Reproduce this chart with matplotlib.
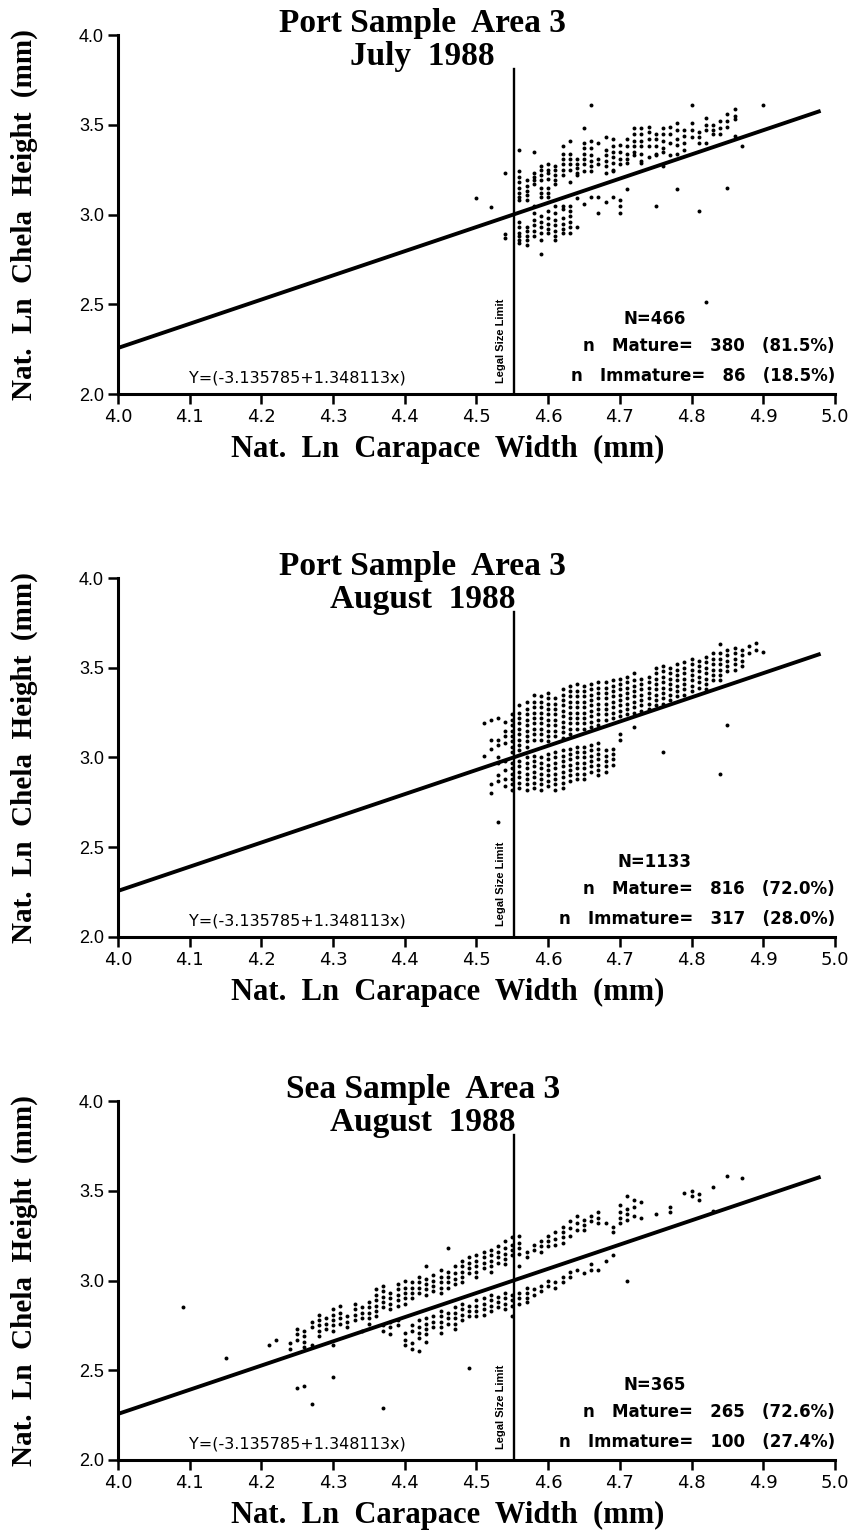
import numpy as np
import matplotlib
matplotlib.use("Agg")
import matplotlib.pyplot as plt

# regression used in all three panels
intercept = -3.135785
slope = 1.348113
legal_limit = 4.553
eq_label = "Y=(-3.135785+1.348113x)"

titles = [("Port Sample  Area 3", "July  1988"),
          ("Port Sample  Area 3", "August  1988"),
          ("Sea Sample  Area 3", "August  1988")]
n_labels = ["N=466", "N=1133", "N=365"]
mature_labels = ["n   Mature=   380   (81.5%)",
                 "n   Mature=   816   (72.0%)",
                 "n   Mature=   265   (72.6%)"]
immature_labels = ["n   Immature=   86   (18.5%)",
                   "n   Immature=   317   (28.0%)",
                   "n   Immature=   100   (27.4%)"]

xticks = [4.0, 4.1, 4.2, 4.3, 4.4, 4.5, 4.6, 4.7, 4.8, 4.9, 5.0]
yticks = [2.0, 2.5, 3.0, 3.5, 4.0]

# Port sample, July 1988: (ln carapace width, [ln chela heights])
jul_cols = [
    (4.50, [3.09]), (4.52, [3.04]), (4.54, [3.23, 2.89, 2.87]),
    (4.56, [3.36, 3.24, 3.21, 3.18, 3.15, 3.12, 3.10, 3.08, 2.96, 2.93, 2.90, 2.88, 2.86, 2.84]),
    (4.57, [3.19, 3.16, 3.13, 3.11, 3.08, 2.93, 2.91, 2.88, 2.86, 2.83]),
    (4.58, [3.35, 3.23, 3.21, 3.19, 3.17, 3.05, 3.01, 2.97, 2.94, 2.91, 2.88]),
    (4.59, [3.27, 3.25, 3.22, 3.19, 3.15, 3.12, 3.10, 2.99, 2.96, 2.93, 2.90, 2.86, 2.78]),
    (4.60, [3.28, 3.25, 3.23, 3.20, 3.15, 3.12, 3.10, 3.02, 2.98, 2.95, 2.92, 2.90]),
    (4.61, [3.27, 3.25, 3.22, 3.19, 3.17, 3.05, 3.01, 2.97, 2.94, 2.91, 2.88, 2.86]),
    (4.62, [3.38, 3.34, 3.31, 3.28, 3.25, 3.22, 3.05, 3.03, 2.98, 2.95, 2.92, 2.90]),
    (4.63, [3.41, 3.34, 3.31, 3.28, 3.25, 3.18, 3.05, 3.02, 2.99, 2.96, 2.93, 2.90]),
    (4.64, [3.31, 3.28, 3.26, 3.23, 3.22, 3.09, 2.93]),
    (4.65, [3.48, 3.40, 3.37, 3.34, 3.31, 3.28, 3.24, 3.06]),
    (4.66, [3.61, 3.41, 3.37, 3.33, 3.30, 3.27, 3.24, 3.10]),
    (4.67, [3.40, 3.31, 3.28, 3.10, 3.01]),
    (4.68, [3.43, 3.36, 3.33, 3.30, 3.27, 3.23, 3.07]),
    (4.69, [3.42, 3.38, 3.35, 3.32, 3.29, 3.25, 3.24, 3.10]),
    (4.70, [3.39, 3.35, 3.31, 3.28, 3.08, 3.05, 3.01]),
    (4.71, [3.42, 3.38, 3.34, 3.31, 3.29, 3.14]),
    (4.72, [3.48, 3.45, 3.41, 3.38, 3.35, 3.33]),
    (4.73, [3.48, 3.45, 3.41, 3.38, 3.34, 3.30, 3.29]),
    (4.74, [3.49, 3.46, 3.42, 3.38, 3.32]),
    (4.75, [3.45, 3.42, 3.38, 3.34, 3.33, 3.05]),
    (4.76, [3.48, 3.45, 3.41, 3.37, 3.35, 3.27]),
    (4.77, [3.49, 3.45, 3.40, 3.33]),
    (4.78, [3.51, 3.47, 3.42, 3.39, 3.34, 3.14]),
    (4.79, [3.47, 3.44, 3.40, 3.36]),
    (4.80, [3.61, 3.51, 3.47, 3.43]),
    (4.81, [3.46, 3.43, 3.40, 3.02]),
    (4.82, [3.54, 3.50, 3.47, 3.40, 2.51]),
    (4.83, [3.50, 3.47, 3.45]),
    (4.84, [3.52, 3.48, 3.45]),
    (4.85, [3.56, 3.52, 3.49, 3.15]),
    (4.86, [3.59, 3.55, 3.53, 3.44]),
    (4.87, [3.38]), (4.90, [3.61]),
]

# Port sample, August 1988
aug_cols = [
    (4.51, [3.19, 3.01]),
    (4.52, [3.21, 3.10, 3.05, 2.85, 2.80]),
    (4.53, [3.22, 3.10, 3.07, 3.00, 2.97, 2.90, 2.87, 2.64]),
    (4.54, [3.20, 3.15, 3.12, 3.08, 2.98, 2.93, 2.88, 2.84]),
    (4.55, [3.24, 3.21, 3.18, 3.15, 3.12, 3.09, 3.06, 3.03, 2.97, 2.94, 2.91, 2.88, 2.85, 2.82]),
    (4.56, [3.29, 3.25, 3.22, 3.19, 3.16, 3.13, 3.10, 3.07, 3.04, 2.98, 2.95, 2.92, 2.89, 2.86, 2.83]),
    (4.57, [3.31, 3.27, 3.24, 3.21, 3.18, 3.15, 3.12, 3.09, 3.06, 3.00, 2.97, 2.94, 2.91, 2.88, 2.85, 2.82]),
    (4.58, [3.35, 3.31, 3.28, 3.25, 3.22, 3.19, 3.16, 3.13, 3.10, 3.01, 2.98, 2.95, 2.92, 2.89, 2.86, 2.83]),
    (4.59, [3.34, 3.31, 3.28, 3.25, 3.22, 3.19, 3.16, 3.13, 3.10, 3.00, 2.97, 2.94, 2.91, 2.88, 2.85, 2.82]),
    (4.60, [3.36, 3.33, 3.30, 3.27, 3.24, 3.21, 3.18, 3.15, 3.12, 3.09, 3.02, 2.99, 2.96, 2.93, 2.90, 2.87, 2.84]),
    (4.61, [3.33, 3.30, 3.27, 3.24, 3.21, 3.18, 3.15, 3.12, 3.03, 3.00, 2.97, 2.94, 2.91, 2.88, 2.85, 2.82]),
    (4.62, [3.38, 3.35, 3.32, 3.29, 3.26, 3.23, 3.20, 3.17, 3.14, 3.11, 3.04, 3.01, 2.98, 2.95, 2.92, 2.89, 2.86, 2.83]),
    (4.63, [3.40, 3.37, 3.34, 3.31, 3.28, 3.25, 3.22, 3.19, 3.16, 3.13, 3.05, 3.02, 2.99, 2.96, 2.93, 2.90, 2.87]),
    (4.64, [3.41, 3.37, 3.34, 3.31, 3.28, 3.25, 3.22, 3.19, 3.16, 3.06, 3.03, 3.00, 2.97, 2.94, 2.91, 2.88]),
    (4.65, [3.40, 3.37, 3.34, 3.31, 3.28, 3.25, 3.22, 3.19, 3.16, 3.06, 3.03, 3.00, 2.97, 2.94, 2.91, 2.88]),
    (4.66, [3.41, 3.38, 3.35, 3.32, 3.29, 3.26, 3.23, 3.20, 3.17, 3.07, 3.04, 3.01, 2.98, 2.95, 2.92]),
    (4.67, [3.42, 3.39, 3.36, 3.33, 3.30, 3.27, 3.24, 3.21, 3.18, 3.08, 3.05, 3.02, 2.99, 2.96, 2.93, 2.90]),
    (4.68, [3.42, 3.39, 3.36, 3.33, 3.30, 3.27, 3.24, 3.21, 3.04, 3.01, 2.98, 2.95, 2.92]),
    (4.69, [3.43, 3.40, 3.37, 3.34, 3.31, 3.28, 3.25, 3.22, 3.05, 3.02, 2.99, 2.96]),
    (4.70, [3.44, 3.41, 3.38, 3.35, 3.32, 3.29, 3.26, 3.23, 3.13, 3.10]),
    (4.71, [3.45, 3.42, 3.39, 3.36, 3.33, 3.30, 3.27, 3.24]),
    (4.72, [3.47, 3.43, 3.40, 3.37, 3.34, 3.31, 3.28, 3.25, 3.17]),
    (4.73, [3.44, 3.41, 3.38, 3.35, 3.32, 3.29, 3.26]),
    (4.74, [3.45, 3.42, 3.39, 3.36, 3.33, 3.30, 3.27]),
    (4.75, [3.50, 3.47, 3.44, 3.41, 3.38, 3.35, 3.32, 3.29]),
    (4.76, [3.51, 3.48, 3.45, 3.42, 3.39, 3.36, 3.33, 3.30, 3.03]),
    (4.77, [3.50, 3.47, 3.44, 3.41, 3.38, 3.35, 3.32]),
    (4.78, [3.52, 3.49, 3.46, 3.43, 3.40, 3.37, 3.34]),
    (4.79, [3.53, 3.50, 3.47, 3.44, 3.41, 3.38, 3.35]),
    (4.80, [3.55, 3.52, 3.49, 3.46, 3.43, 3.40, 3.37]),
    (4.81, [3.54, 3.51, 3.48, 3.45, 3.42, 3.39]),
    (4.82, [3.56, 3.53, 3.50, 3.47, 3.44, 3.41, 3.38]),
    (4.83, [3.58, 3.55, 3.52, 3.49, 3.46, 3.43]),
    (4.84, [3.63, 3.58, 3.55, 3.52, 3.49, 3.46, 3.43, 2.91]),
    (4.85, [3.60, 3.57, 3.54, 3.51, 3.48, 3.18]),
    (4.86, [3.61, 3.58, 3.55, 3.52, 3.49]),
    (4.87, [3.60, 3.57, 3.54, 3.51]),
    (4.88, [3.62, 3.58]),
    (4.89, [3.64, 3.60]),
    (4.90, [3.59]),
]

# Sea sample, August 1988
sea_cols = [
    (4.09, [2.85]), (4.15, [2.57]), (4.21, [2.64]), (4.22, [2.67]),
    (4.24, [2.65, 2.62]),
    (4.25, [2.73, 2.70, 2.67, 2.40]),
    (4.26, [2.72, 2.69, 2.66, 2.63, 2.41]),
    (4.27, [2.77, 2.74, 2.64, 2.31]),
    (4.28, [2.81, 2.78, 2.75, 2.72, 2.69]),
    (4.29, [2.79, 2.76, 2.73]),
    (4.30, [2.84, 2.81, 2.78, 2.75, 2.72, 2.64, 2.46]),
    (4.31, [2.86, 2.82, 2.79, 2.76]),
    (4.32, [2.80, 2.77, 2.74]),
    (4.33, [2.87, 2.84, 2.81, 2.78]),
    (4.34, [2.85, 2.82, 2.79, 2.72]),
    (4.35, [2.88, 2.85, 2.82, 2.79, 2.76]),
    (4.36, [2.95, 2.92, 2.89, 2.86, 2.83, 2.80]),
    (4.37, [2.97, 2.94, 2.91, 2.88, 2.85, 2.75, 2.72, 2.29]),
    (4.38, [2.93, 2.90, 2.87, 2.84, 2.77, 2.74, 2.70]),
    (4.39, [2.98, 2.95, 2.92, 2.89, 2.86, 2.78, 2.75]),
    (4.40, [3.00, 2.96, 2.93, 2.90, 2.87, 2.71, 2.67, 2.64]),
    (4.41, [2.99, 2.96, 2.93, 2.90, 2.75, 2.72, 2.65, 2.62]),
    (4.42, [3.02, 2.99, 2.96, 2.93, 2.78, 2.74, 2.71, 2.68, 2.61]),
    (4.43, [3.08, 3.01, 2.98, 2.95, 2.92, 2.79, 2.76, 2.73, 2.70, 2.66]),
    (4.44, [3.03, 3.00, 2.97, 2.94, 2.80, 2.77, 2.74]),
    (4.45, [3.06, 3.02, 2.99, 2.96, 2.93, 2.83, 2.80, 2.77, 2.74, 2.71]),
    (4.46, [3.18, 3.05, 3.02, 2.99, 2.96, 2.82, 2.79, 2.76]),
    (4.47, [3.08, 3.04, 3.01, 2.98, 2.85, 2.82, 2.79, 2.76, 2.73]),
    (4.48, [3.11, 3.08, 3.05, 3.02, 2.99, 2.87, 2.84, 2.81, 2.78]),
    (4.49, [3.13, 3.10, 3.07, 3.04, 2.86, 2.83, 2.80, 2.51]),
    (4.50, [3.14, 3.11, 3.08, 3.05, 3.02, 2.89, 2.86, 2.83, 2.80]),
    (4.51, [3.16, 3.13, 3.10, 3.07, 2.90, 2.87, 2.84, 2.81]),
    (4.52, [3.17, 3.14, 3.11, 3.08, 3.05, 2.92, 2.89, 2.86, 2.83]),
    (4.53, [3.19, 3.16, 3.13, 3.10, 2.91, 2.88, 2.85]),
    (4.54, [3.22, 3.18, 3.15, 3.12, 3.09, 2.93, 2.90, 2.87, 2.84]),
    (4.55, [3.24, 3.20, 3.17, 3.14, 2.92, 2.89, 2.86, 2.80]),
    (4.56, [3.25, 3.21, 3.18, 3.15, 3.08, 2.93, 2.90, 2.87]),
    (4.57, [3.16, 3.13, 2.96, 2.93, 2.90, 2.88]),
    (4.58, [3.20, 3.17, 2.95, 2.92]),
    (4.59, [3.22, 3.19, 3.16, 2.97, 2.94]),
    (4.60, [3.25, 3.22, 3.19, 3.00, 2.97]),
    (4.61, [3.27, 3.23, 3.20, 2.99, 2.96]),
    (4.62, [3.30, 3.27, 3.24, 3.21, 3.02, 2.99]),
    (4.63, [3.33, 3.29, 3.25, 3.05, 3.02]),
    (4.64, [3.36, 3.32, 3.28, 3.06]),
    (4.65, [3.34, 3.31, 3.28, 3.04]),
    (4.66, [3.36, 3.33, 3.09, 3.06]),
    (4.67, [3.38, 3.35, 3.32, 3.06]),
    (4.68, [3.32, 3.11]),
    (4.69, [3.30, 3.27, 3.14]),
    (4.70, [3.42, 3.38, 3.35, 3.32]),
    (4.71, [3.47, 3.40, 3.37, 3.34, 3.00]),
    (4.72, [3.45, 3.41, 3.36]),
    (4.73, [3.44, 3.35]),
    (4.75, [3.37]),
    (4.77, [3.41, 3.38]),
    (4.79, [3.49]),
    (4.80, [3.50, 3.47]),
    (4.81, [3.48, 3.45]),
    (4.83, [3.52, 3.39]),
    (4.85, [3.58]),
    (4.87, [3.57]),
]

panels = [jul_cols, aug_cols, sea_cols]
line_x = [4.0, 4.98]

serif = "Liberation Serif"
sans = "DejaVu Sans"
narrow = "Liberation Sans"

fig = plt.figure(figsize=(8.52, 15.32), dpi=100)
bottoms = [0.7428, 0.3884, 0.0470]

for i, cols in enumerate(panels):
    ax = fig.add_axes([0.1385, bottoms[i], 0.8415, 0.2343])
    xs = [c[0] for c in cols for _ in c[1]]
    ys = [y for c in cols for y in c[1]]
    ax.scatter(xs, ys, s=8, c="black", linewidths=0, zorder=3)

    lx = np.array(line_x)
    ax.plot(lx, intercept + slope * lx, color="black", lw=2.8, solid_capstyle="butt", zorder=4)
    ax.plot([legal_limit, legal_limit], [2.0, 3.81], color="black", lw=1.7, zorder=4)

    ax.set_xlim(4.0, 5.0)
    ax.set_ylim(2.0, 4.0)
    ax.set_xticks(xticks)
    ax.set_yticks(yticks)
    ax.set_xticklabels(["%.1f" % v for v in xticks], fontsize=13, family=sans)
    ax.set_yticklabels(["%.1f" % v for v in yticks], fontsize=13, family=narrow)
    ax.tick_params(direction="out", length=7, width=1.8, pad=3)
    for s in ["top", "right"]:
        ax.spines[s].set_visible(False)
    for s in ["left", "bottom"]:
        ax.spines[s].set_linewidth(2.2)

    ax.set_xlabel("Nat.  Ln  Carapace  Width  (mm)", fontsize=22, fontweight="bold",
                  family=serif)
    ax.xaxis.set_label_coords(0.46, -0.115)
    ax.set_ylabel("Nat.  Ln  Chela  Height  (mm)", fontsize=21, fontweight="bold",
                  family=serif)
    ax.yaxis.set_label_coords(-0.112, 0.5)

    ax.text(0.425, 1.033, titles[i][0], transform=ax.transAxes, ha="center", va="center",
            fontsize=24, fontweight="bold", family=serif)
    ax.text(0.425, 0.939, titles[i][1], transform=ax.transAxes, ha="center", va="center",
            fontsize=24, fontweight="bold", family=serif)

    ax.text(4.25, 2.09, eq_label, ha="center", va="center", fontsize=11.5, family=sans)
    ax.text(4.534, 2.06, "Legal Size Limit", rotation=90, ha="center", va="bottom",
            fontsize=8, fontweight="bold", family=narrow)
    ax.text(4.748, 2.42, n_labels[i], ha="center", va="center", fontsize=12,
            fontweight="bold", family=sans)
    ax.text(5.0, 2.265, mature_labels[i], ha="right", va="center", fontsize=12,
            fontweight="bold", family=sans)
    ax.text(5.0, 2.10, immature_labels[i], ha="right", va="center", fontsize=12,
            fontweight="bold", family=sans)

fig.savefig("out.png", dpi=100, facecolor="white")
